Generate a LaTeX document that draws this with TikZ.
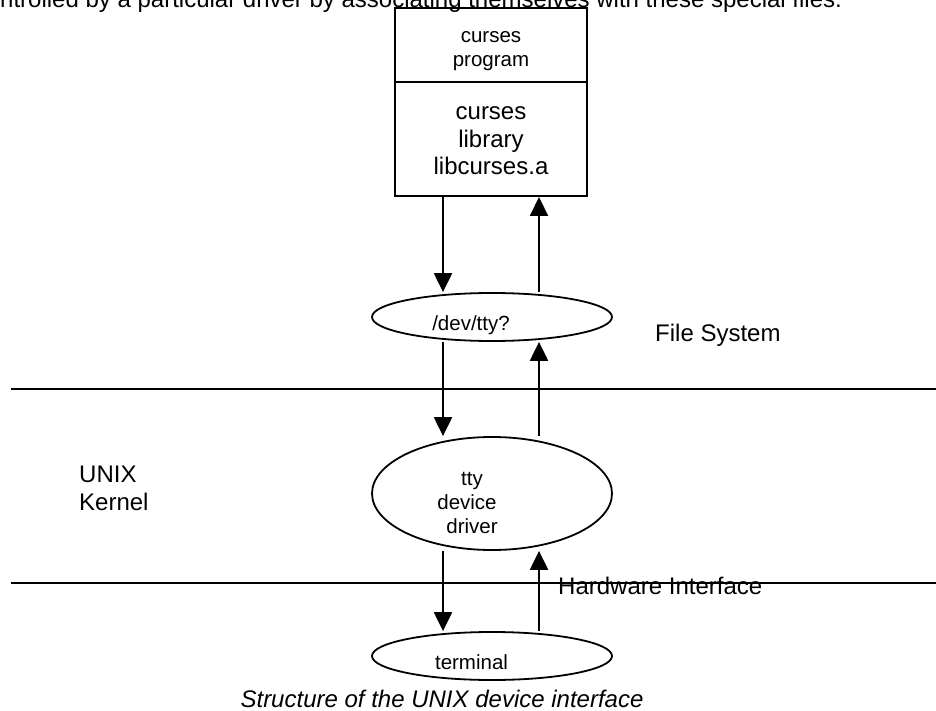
\documentclass[tikz,border=0pt]{standalone}
\usepackage{fontspec}
\setmainfont{Liberation Sans}
\usetikzlibrary{shapes,arrows.meta}

\tikzset{
  bigtext/.style={font=\fontsize{24}{28}\selectfont, inner sep=0, anchor=base},
  smalltext/.style={font=\fontsize{20.5}{24}\selectfont, inner sep=0, anchor=base},
  blob/.style={draw, ellipse, line width=1.8pt, minimum width=240pt, inner sep=0},
  layer/.style={draw, rectangle, line width=2pt, minimum width=192pt, inner sep=0},
  flow/.style={line width=2.2pt, -{Triangle[length=19pt,width=18pt]}},
}

\begin{document}
\begin{tikzpicture}[x=1pt, y=-1pt]
\clip (0,0) rectangle (936,711);

\node [bigtext, anchor=base west] (intro) at (0, 8) {ntrolled by a particular driver by associating themselves with these special files.};

% the program and its library
\node [layer, minimum height=74pt] (prog) at (491, 45) {};
\node [layer, minimum height=114pt] (lib) at (491, 139) {};

\node [smalltext] (progA) at (491, 43) {curses};
\node [smalltext] (progB) at (491, 67) {program};
\node [bigtext] (libA) at (491, 120) {curses};
\node [bigtext] (libB) at (491, 147.5) {library};
\node [bigtext] (libC) at (491, 175) {libcurses.a};

% special file, driver and terminal
\node [blob, minimum height=48pt] (dev) at (492, 317) {};
\node [blob, minimum height=113pt] (drv) at (492, 493.5) {};
\node [blob, minimum height=48pt] (term) at (492, 656) {};

\node [smalltext] (devA) at (471, 330) {/dev/tty?};
\node [smalltext] (drvA) at (472, 485) {tty};
\node [smalltext] (drvB) at (467, 509) {device};
\node [smalltext] (drvC) at (472, 533) {driver};
\node [smalltext] (termA) at (471.5, 669) {terminal};

% layer borders
\draw [line width=2.3pt] (11, 389) -- (936, 389);
\draw [line width=2.3pt] (11, 583) -- (936, 583);

\node [bigtext, anchor=base west] (fs) at (655, 341) {File System};
\node [bigtext, anchor=base west] (kernA) at (79, 482) {UNIX};
\node [bigtext, anchor=base west] (kernB) at (79, 510) {Kernel};
\node [bigtext, anchor=base west] (hw) at (558, 594) {Hardware Interface};

% data flow down and up
\coordinate (dnx) at (443, 0);
\coordinate (upx) at (539, 0);
\draw [flow] (lib.south -| dnx) -- (dev.north -| dnx);
\draw [flow] (dev.north -| upx) -- (lib.south -| upx);
\draw [flow] (dev.south -| dnx) -- (drv.north -| dnx);
\draw [flow] (drv.north -| upx) -- (dev.south -| upx);
\draw [flow] (drv.south -| dnx) -- (term.north -| dnx);
\draw [flow] (term.north -| upx) -- (drv.south -| upx);

\node [bigtext, font=\fontsize{24}{28}\selectfont\itshape] (caption) at (442, 707) {Structure of the UNIX device interface};

\end{tikzpicture}
\end{document}
